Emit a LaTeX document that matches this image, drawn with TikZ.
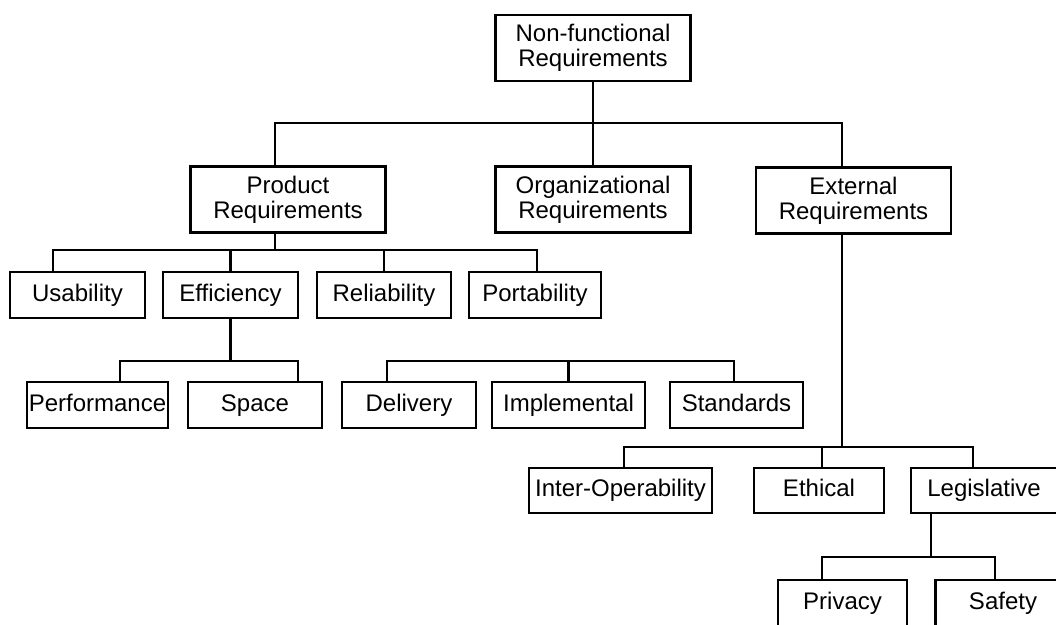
\documentclass[tikz,border=0pt]{standalone}
\usepackage{fontspec}
\setmainfont{Liberation Sans}
\usetikzlibrary{positioning}

\tikzset{
  box/.style={draw,line width=2.8pt,inner sep=0pt,align=center,
    minimum height=46pt,text height=17pt,text depth=5pt,
    font=\fontsize{24}{25}\selectfont},
  bigbox/.style={draw,line width=2.8pt,inner sep=0pt,align=center,
    minimum width=195pt,minimum height=66pt,font=\fontsize{24}{25}\selectfont},
  link/.style={line width=2.6pt,line join=miter}
}

\begin{document}
\begin{tikzpicture}[x=1pt,y=-1pt]
  \useasboundingbox (0,0) rectangle (1056,624);
  \clip (0,0) rectangle (1056,624);

  % top
  \node[bigbox] (nfr) at (593,48) {Non-functional\\Requirements};

  % ~level 1
  \node[bigbox] (prod) at (288,199.5) {Product\\Requirements};
  \node[bigbox] (org) at (593,199.5) {Organizational\\Requirements};
  \node[bigbox] (ext) at (853.5,200.5) {External\\Requirements};

  % ~level 2
  \node[box,minimum width=135pt] (usab) at (77.5,295) {Usability};
  \node[box,minimum width=135pt] (effi) at (230.5,295) {Efficiency};
  \node[box,minimum width=134pt] (reli) at (384,295) {Reliability};
  \node[box,minimum width=132pt] (port) at (535,295) {Portability};

  % ~level 3
  \node[box,minimum width=141pt] (perf) at (97.5,405) {Performance};
  \node[box,minimum width=134pt] (space) at (255,405) {Space};
  \node[box,minimum width=134pt] (deliv) at (409,405) {Delivery};
  \node[box,minimum width=153pt] (impl) at (568.5,405) {Implemental};
  \node[box,minimum width=133pt] (stand) at (736.5,405) {Standards};

  % ~level 4
  \node[box,minimum width=183pt,minimum height=45pt] (inter) at (620.5,490.5) {Inter-Operability};
  \node[box,minimum width=130pt,minimum height=45pt] (ethic) at (819,490.5) {Ethical};
  \node[box,minimum width=146pt,minimum height=45pt] (legis) at (984,490.5) {Legislative};

  % ~level 5
  \node[box,minimum width=129pt] (priv) at (842.5,603) {Privacy};
  \node[box,minimum width=135pt] (safe) at (1003,603) {Safety};

  % buses
  \coordinate (b1l) at (275,123);
  \coordinate (b1r) at (842,123);
  \coordinate (b2l) at (53,250);
  \coordinate (b2r) at (537,250);
  \coordinate (b3l) at (120,361);
  \coordinate (b3r) at (298,361);
  \coordinate (b4l) at (387,361);
  \coordinate (b4r) at (734,361);
  \coordinate (b5l) at (624,447);
  \coordinate (b5r) at (973,447);
  \coordinate (b6m) at (931,557);
  \coordinate (b6l) at (822,557);
  \coordinate (b6r) at (995,557);

  \draw[link] (nfr.south) -- (org.north);
  \draw[link] (b1l |- prod.north) -- (b1l) -- (b1r) -- (b1r |- ext.north);

  \draw[link] (prod.south -| b1l) -- (b1l |- b2l);
  \draw[link] (b2l |- usab.north) -- (b2l) -- (b2r) -- (b2r |- port.north);
  \draw[link] (effi.north) -- (effi.north |- b2l);
  \draw[link] (reli.north) -- (reli.north |- b2l);

  \draw[link] (effi.south) -- (effi.south |- b3l);
  \draw[link] (b3l |- perf.north) -- (b3l) -- (b3r) -- (b3r |- space.north);

  \draw[link] (b4l |- deliv.north) -- (b4l) -- (b4r) -- (b4r |- stand.north);
  \draw[link] (impl.north) -- (impl.north |- b4l);

  \draw[link] (ext.south -| b1r) -- (b1r |- b5l);
  \draw[link] (b5l |- inter.north) -- (b5l) -- (b5r) -- (b5r |- legis.north);
  \draw[link] (ethic.north -| b6l) -- (b6l |- b5l);

  \draw[link] (legis.south -| b6m) -- (b6m);
  \draw[link] (b6l |- priv.north) -- (b6l) -- (b6r) -- (b6r |- safe.north);
\end{tikzpicture}
\end{document}
